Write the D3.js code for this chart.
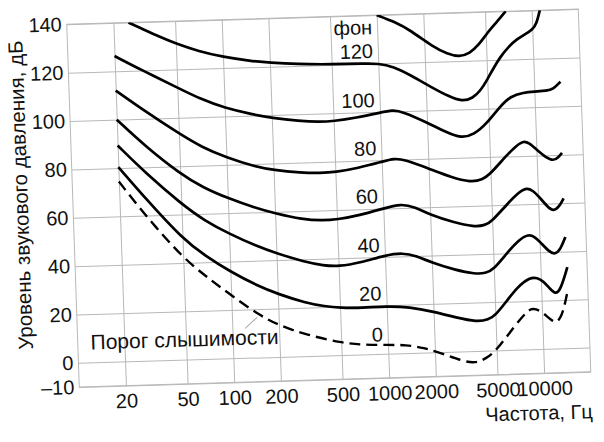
<!DOCTYPE html>
<html>
<head>
<meta charset="utf-8">
<script src="https://cdn.jsdelivr.net/npm/d3@7"></script>
<style>
    body { margin: 0; background: #fff; }
    svg { display: block; }
    text { font-family: "Liberation Sans", Arial, sans-serif; fill: #111; }
</style>
</head>
<body>
<script>
// equal loudness contours, frequency in Hz, level in dB
const freqTicks = [20, 50, 100, 200, 500, 1000, 2000, 5000, 10000];
const levelTicks = [-10, 0, 20, 40, 60, 80, 100, 120, 140];

const threshold = [[20, 74.4], [30, 59], [50, 42], [70, 34], [100, 26], [150, 17.5], [200, 13], [300, 8.8], [500, 5], [700, 3.9], [1000, 3.6], [1300, 3.4], [1700, 2], [2200, -0.5], [3000, -4], [3600, -5], [4200, -3.5], [5000, 0], [6500, 9.3], [8000, 15.8], [8700, 17], [9800, 16], [11500, 11.5], [12500, 10.5], [13700, 14.9], [14700, 23.1]];
const phon20 = [[20, 80.4], [30, 66.5], [50, 50], [70, 42.5], [100, 35.8], [150, 29.5], [200, 26], [300, 22], [400, 20.3], [500, 19.5], [700, 19.2], [1000, 19.6], [1400, 19], [2000, 16.8], [2800, 14], [3800, 12], [4500, 12.8], [5000, 14.5], [6000, 20.5], [7000, 25.8], [8500, 29.8], [9500, 29.5], [10300, 28.2], [11500, 24.5], [12300, 22.6], [13300, 24], [14900, 33.5]];
const phon40 = [[20, 89.3], [30, 77.5], [50, 64.4], [70, 57.2], [100, 51.5], [150, 46], [200, 42.8], [300, 39], [400, 37.2], [500, 36.6], [700, 38], [1000, 40.6], [1300, 41.5], [1600, 40], [2000, 37], [2800, 33.8], [3800, 31.8], [4400, 32], [5000, 33.5], [6200, 40.5], [7400, 45.5], [8500, 47.6], [9300, 46.5], [10000, 44.5], [11500, 40], [12500, 38.9], [13600, 41], [14700, 46]];
const phon60 = [[20, 100], [30, 88.8], [50, 76.8], [70, 70.8], [100, 66.2], [150, 61.8], [200, 59.3], [300, 56.5], [400, 55.8], [500, 56], [700, 57.5], [1000, 60], [1300, 61.8], [1600, 60.2], [2000, 56.8], [2800, 53.5], [3800, 51.3], [4500, 51.8], [5000, 53.5], [6300, 60.3], [7500, 65], [8500, 66.9], [9300, 65.5], [10000, 63.5], [11500, 58.5], [12500, 56.8], [13600, 58.5], [14600, 62]];
const phon80 = [[20, 112], [30, 103.5], [50, 93.5], [70, 87.5], [100, 83], [150, 79], [200, 77.2], [300, 75.8], [400, 75.4], [500, 75.6], [700, 77], [1000, 79.3], [1200, 80.6], [1400, 80], [2000, 76], [2800, 72], [3700, 69.8], [4400, 70.6], [5000, 73], [6400, 80.5], [7500, 84.5], [8300, 86.2], [9000, 85.3], [10000, 82.5], [11500, 79], [12800, 77.6], [13800, 79], [14600, 80.8]];
const phon100 = [[20, 126.3], [30, 120], [50, 112.5], [70, 107.5], [100, 103.5], [150, 100.5], [200, 98.8], [300, 97.2], [400, 96.6], [500, 96.7], [700, 97.8], [1000, 99.6], [1200, 100.6], [1400, 99.8], [2000, 95], [2600, 91], [3300, 88], [4000, 89.5], [4800, 93.5], [6000, 101], [7000, 104.8], [8500, 106.2], [10000, 106.5], [12000, 106.6], [13300, 107.3], [14800, 110.2]];
const phon120 = [[25, 140], [30, 137.5], [40, 133.5], [50, 130.7], [70, 127.2], [100, 124.6], [150, 122.6], [200, 121.6], [300, 120.7], [500, 120.2], [800, 120.1], [1000, 120], [1250, 118.5], [1600, 114.8], [2200, 109.3], [2800, 105.5], [3400, 103.2], [4000, 104.5], [4500, 107.5], [5000, 112], [5500, 116.5], [6100, 121], [7000, 125.5], [8000, 128.5], [9000, 130.3], [10000, 132], [10700, 134.5], [11300, 140]];
const phon140 = [[1000, 140], [1300, 137], [1630, 133.4], [2280, 126.1], [2800, 123.1], [3340, 121.7], [3900, 123], [4500, 126.5], [5100, 131.2], [6000, 136], [6800, 140]];

const solidCurves = [phon20, phon40, phon60, phon80, phon100, phon120, phon140];
const curveLabels = ["фон", "120", "100", "80", "60", "40", "20", "0"];
const curveLabelLevels = [132.2, 122.3, 102, 82.1, 62.3, 42, 22.1, 5.1];
const curveLabelFreq = 930;
const leader = [[121, 12.2], [145, 16.6]];

function run() {
    let width = 604, height = 442;
    let plotW = 511.5, plotH = 362.75;

    let svg = d3.select("body").append("svg")
        .attr("width", width)
        .attr("height", height);
    // the scanned chart is a little tilted, so everything goes in one skewed group
    let g = svg.append("g")
        .attr("transform", "translate(66.75,24.3) matrix(1,-0.0298,0.0345,1,0,0)");

    let x = d3.scaleLog().domain([10, 20000]).range([0, plotW]);
    let y = d3.scaleLinear().domain([-10, 140]).range([plotH, 0]);

    let xAxis = g.append("g")
        .attr("transform", "translate(0," + plotH + ")")
        .call(d3.axisBottom(x).tickValues(freqTicks).tickSize(-plotH).tickPadding(8).tickFormat(d3.format("d")));
    let yAxis = g.append("g")
        .call(d3.axisLeft(y).tickValues(levelTicks).tickSize(-plotW).tickPadding(5)
            .tickFormat(d => d < 0 ? "–" + Math.abs(d) : d));
    [xAxis, yAxis].forEach(a => {
        a.select(".domain").remove();
        a.selectAll(".tick line").attr("stroke", "#b8b8b8").attr("stroke-width", 1);
        a.selectAll(".tick text")
            .style("font-family", "'Liberation Sans', Arial, sans-serif")
            .style("font-size", "20px")
            .attr("fill", "#111");
    });

    g.append("rect")
        .attr("x", 0)
        .attr("y", 0)
        .attr("width", plotW)
        .attr("height", plotH)
        .attr("fill", "none")
        .attr("stroke", "#b8b8b8")
        .attr("stroke-width", 1);

    g.append("clipPath").attr("id", "plotclip")
        .append("rect")
        .attr("x", 0)
        .attr("y", 0)
        .attr("width", plotW)
        .attr("height", plotH);

    // b-spline through the read points smooths out reading noise
    let line = d3.line()
        .x(d => x(d[0]))
        .y(d => y(d[1]))
        .curve(d3.curveBasis);

    let curves = g.append("g").attr("clip-path", "url(#plotclip)");
    curves.selectAll("path.solid")
        .data(solidCurves)
        .join("path")
        .attr("class", "solid")
        .attr("d", line)
        .attr("fill", "none")
        .attr("stroke", "#000")
        .attr("stroke-width", 2.7);
    curves.append("path")
        .attr("d", line(threshold))
        .attr("fill", "none")
        .attr("stroke", "#000")
        .attr("stroke-width", 2.4)
        .attr("stroke-dasharray", "11,6");

    g.selectAll("text.phon")
        .data(curveLabels)
        .join("text")
        .attr("class", "phon")
        .attr("x", x(curveLabelFreq))
        .attr("y", (d, i) => y(curveLabelLevels[i]))
        .attr("text-anchor", "end")
        .style("font-size", "20px")
        .text(d => d);

    g.append("path")
        .attr("d", d3.line().x(d => x(d[0])).y(d => y(d[1]))(leader))
        .attr("stroke", "#aaa")
        .attr("stroke-width", 1);
    g.append("text")
        .attr("x", x(12.1))
        .attr("y", y(5.4))
        .style("font-size", "21px")
        .text("Порог слышимости");

    g.append("text")
        .attr("x", 404.6)
        .attr("y", plotH + 46.5)
        .style("font-size", "20px")
        .text("Частота, Гц");
    g.append("text")
        .attr("transform", "translate(-45," + (plotH * 0.4667) + ") rotate(-90)")
        .attr("text-anchor", "middle")
        .style("font-size", "20.5px")
        .text("Уровень звукового давления, дБ");
}
window.onload = run;
</script>
</body>
</html>
